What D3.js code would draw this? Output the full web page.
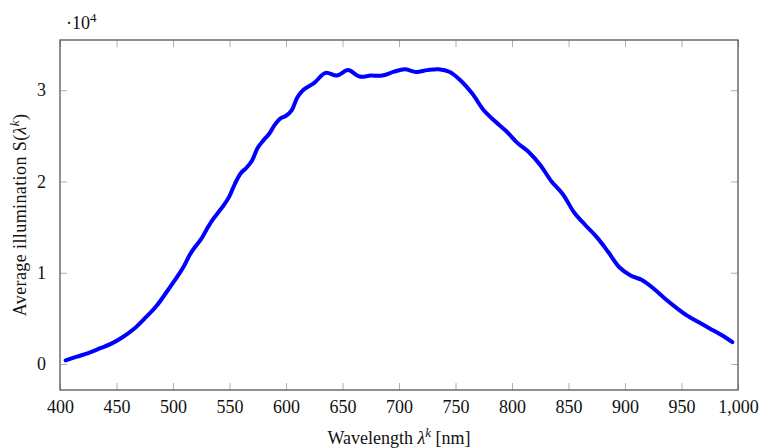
<!DOCTYPE html>
<html>
<head>
<meta charset="utf-8">
<script src="https://cdn.jsdelivr.net/npm/d3@7"></script>
<style>
  body { margin: 0; background: #fff; }
  text { font-family: "Liberation Serif", "DejaVu Serif", serif; fill: #111; }
</style>
</head>
<body>
<div id="chart"></div>
<script>
// wavelength (nm) and average illumination (x 10^4)
const wavelengths = [405, 415, 425, 435, 445, 455, 465, 475, 485, 495,
  500, 505, 510, 515, 520, 525, 530, 535, 540, 545, 550, 555, 560, 565, 570, 575,
  580, 585, 590, 595, 600, 605, 610, 615,
  625, 635, 645, 655, 665, 675, 685, 695,
  705, 715, 725, 735, 745, 755, 765, 775, 785, 795,
  805, 815, 825, 835, 845, 855, 865, 875, 885, 895,
  905, 915, 925, 935, 945, 955, 965, 975, 985, 995];
const illumination = [0.04, 0.08, 0.12, 0.17, 0.22, 0.29, 0.38, 0.50, 0.63, 0.80,
  0.89, 0.98, 1.08, 1.20, 1.29, 1.37, 1.48, 1.58, 1.66, 1.74, 1.84, 1.98, 2.09, 2.15, 2.23, 2.37,
  2.45, 2.52, 2.62, 2.69, 2.72, 2.78, 2.92, 3.00,
  3.08, 3.19, 3.16, 3.22, 3.15, 3.16, 3.16, 3.20,
  3.23, 3.20, 3.22, 3.23, 3.20, 3.10, 2.96, 2.78, 2.66, 2.55,
  2.42, 2.32, 2.18, 2.00, 1.86, 1.66, 1.52, 1.39, 1.23, 1.06,
  0.97, 0.92, 0.83, 0.72, 0.62, 0.53, 0.46, 0.39, 0.32, 0.24];
const xTicks = [400, 450, 500, 550, 600, 650, 700, 750, 800, 850, 900, 950, 1000];
const yTicks = [0, 1, 2, 3];

const width = 763;
const height = 448;
const m = { left: 60, right: 738, top: 40, bottom: 390 };

const data = wavelengths.map((w, i) => ({ w: w, v: illumination[i] }));

const x = d3.scaleLinear().domain([400, 1000]).range([m.left, m.right]);
const y = d3.scaleLinear().domain([-0.285, 3.55]).range([m.bottom, m.top]);

let svg = d3.select("#chart")
  .append("svg")
  .attr("width", width)
  .attr("height", height);

// ticks (inside, mirrored on all sides)
const tickLen = 7;
svg.append("g")
  .attr("transform", "translate(0," + m.bottom + ")")
  .call(d3.axisBottom(x).tickValues(xTicks).tickSizeInner(-tickLen).tickSizeOuter(0).tickPadding(10).tickFormat(d3.format(",")))
  .call(g => g.select(".domain").remove())
  .call(g => g.selectAll("line").attr("stroke", "#b0b0b0"))
  .call(g => g.selectAll("text").attr("font-size", 18).attr("font-family", "Liberation Serif").attr("fill", "#111"));

svg.append("g")
  .attr("transform", "translate(0," + m.top + ")")
  .call(d3.axisTop(x).tickValues(xTicks).tickSizeInner(-tickLen).tickSizeOuter(0).tickFormat(""))
  .call(g => g.select(".domain").remove())
  .call(g => g.selectAll("line").attr("stroke", "#b0b0b0"));

svg.append("g")
  .attr("transform", "translate(" + m.left + ",0)")
  .call(d3.axisLeft(y).tickValues(yTicks).tickSizeInner(-tickLen).tickSizeOuter(0).tickPadding(14).tickFormat(d3.format("d")))
  .call(g => g.select(".domain").remove())
  .call(g => g.selectAll("line").attr("stroke", "#b0b0b0"))
  .call(g => g.selectAll("text").attr("font-size", 18).attr("font-family", "Liberation Serif").attr("fill", "#111"));

svg.append("g")
  .attr("transform", "translate(" + m.right + ",0)")
  .call(d3.axisRight(y).tickValues(yTicks).tickSizeInner(-tickLen).tickSizeOuter(0).tickFormat(""))
  .call(g => g.select(".domain").remove())
  .call(g => g.selectAll("line").attr("stroke", "#b0b0b0"));

// frame
svg.append("rect")
  .attr("x", m.left)
  .attr("y", m.top)
  .attr("width", m.right - m.left)
  .attr("height", m.bottom - m.top)
  .attr("fill", "none")
  .attr("stroke", "#555")
  .attr("stroke-width", 1.3);

// curve
const line = d3.line()
  .x(d => x(d.w))
  .y(d => y(d.v))
  .curve(d3.curveCatmullRom.alpha(0.5));

svg.append("path")
  .datum(data)
  .attr("d", line)
  .attr("fill", "none")
  .attr("stroke", "#0000ff")
  .attr("stroke-width", 4)
  .attr("stroke-linejoin", "round")
  .attr("stroke-linecap", "round");

// scale factor
let sf = svg.append("text")
  .attr("x", 66)
  .attr("y", 29)
  .attr("font-size", 18);
sf.append("tspan").text("\u00b710");
sf.append("tspan").attr("font-size", 13).attr("dy", -7).text("4");

// x title
let xt = svg.append("text")
  .attr("x", (m.left + m.right) / 2)
  .attr("y", 444)
  .attr("text-anchor", "middle")
  .attr("font-size", 18);
xt.append("tspan").text("Wavelength ");
xt.append("tspan").attr("font-style", "italic").text("\u03bb");
xt.append("tspan").attr("font-style", "italic").attr("font-size", 13).attr("dy", -7).text("k");
xt.append("tspan").attr("dy", 7).text(" [nm]");

// y title
let yt = svg.append("text")
  .attr("transform", "translate(26," + (m.top + m.bottom) / 2 + ") rotate(-90)")
  .attr("text-anchor", "middle")
  .attr("font-size", 18)
  .attr("letter-spacing", 0.4);
yt.append("tspan").text("Average illumination S(");
yt.append("tspan").attr("font-style", "italic").text("\u03bb");
yt.append("tspan").attr("font-style", "italic").attr("font-size", 13).attr("dy", -7).text("k");
yt.append("tspan").attr("dy", 7).text(")");
</script>
</body>
</html>
